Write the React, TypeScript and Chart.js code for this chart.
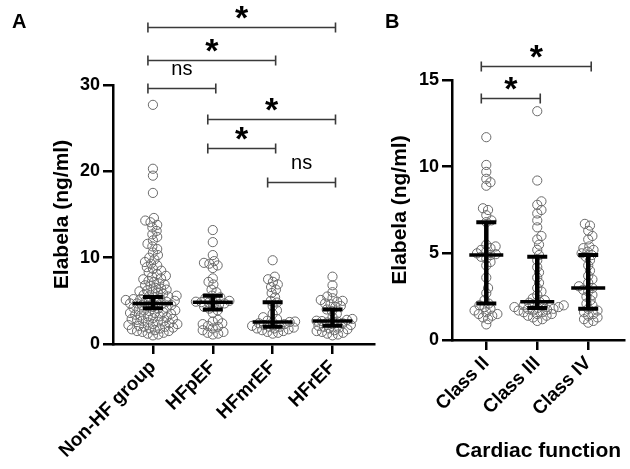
import React, { useEffect, useRef } from 'react';
import { Chart, registerables } from 'chart.js';

Chart.register(...registerables);

const FONT = "'Liberation Sans', Arial, sans-serif";

// ---------- Panel A data ----------
const GROUPS_A = ['Non-HF group', 'HFpEF', 'HFmrEF', 'HFrEF'];
const NON_HF = [
  27.7, 20.3, 19.5, 17.5, 14.6, 14.3, 14.1, 13.8, 13.5, 13.1, 12.7, 12.4, 12.0, 11.6, 11.3, 11.0,
  10.6, 10.3, 10.0, 9.8, 9.5, 9.3, 9.1, 8.9, 8.7, 8.5, 8.3, 8.1, 7.9, 7.8, 7.6, 7.5, 7.3, 7.2, 7.0,
  6.9, 6.8, 6.7, 6.5, 6.4, 6.3, 6.2, 6.1, 6.0, 5.9, 5.8, 5.7, 5.6, 5.5, 5.5, 5.4, 5.3, 5.2, 5.2,
  5.1, 5.0, 5.0, 4.9, 4.9, 4.8, 4.7, 4.7, 4.6, 4.5, 4.5, 4.4, 4.3, 4.2, 4.2, 4.1, 4.0, 3.9, 3.9,
  3.8, 3.7, 3.6, 3.6, 3.5, 3.4, 3.3, 3.2, 3.2, 3.1, 3.0, 2.9, 2.9, 2.8, 2.7, 2.6, 2.6, 2.5, 2.4,
  2.3, 2.3, 2.2, 2.1, 2.0, 2.0, 1.9, 1.8, 1.8, 1.7, 1.6, 1.5, 1.5, 1.4, 1.3, 1.2, 1.1, 1.0,
];
const HFPEF = [
  13.2, 11.8, 10.3, 9.6, 9.4, 9.3, 9.1, 8.8, 7.6, 7.2, 6.9, 6.3, 6.0, 5.6, 5.4, 5.3, 5.1, 5.0, 4.9,
  4.85, 4.8, 4.7, 4.6, 4.5, 4.3, 4.1, 3.9, 3.6, 2.8, 2.6, 2.4, 2.3, 2.1, 2.0, 1.8, 1.6, 1.4, 1.3,
  1.2, 1.1,
];
const HFMREF = [
  9.7, 7.8, 7.5, 7.2, 6.9, 6.6, 6.3, 5.9, 5.4, 5.0, 4.8, 4.4, 3.9, 3.5, 3.1, 2.9, 2.7, 2.6, 2.55,
  2.5, 2.4, 2.3, 2.2, 2.1, 2.0, 2.0, 1.9, 1.8, 1.8, 1.7, 1.6, 1.5, 1.4, 1.3, 1.2,
];
const HFREF = [
  7.8, 6.8, 6.0, 5.5, 5.3, 5.1, 5.0, 4.9, 4.7, 4.6, 4.4, 4.3, 4.0, 3.8, 3.5, 3.1, 2.9, 2.8, 2.7,
  2.65, 2.6, 2.5, 2.4, 2.3, 2.2, 2.1, 2.0, 1.9, 1.8, 1.7, 1.6, 1.5, 1.4, 1.3, 1.2, 1.1, 1.0,
];
const MEDIAN_A = [4.7, 4.85, 2.55, 2.65];
const CI_LOW_A = [4.15, 4.0, 2.0, 2.1];
const CI_HIGH_A = [5.45, 5.6, 4.85, 4.0];
const Y_TICKS_A = [0, 10, 20, 30];
// significance comparisons: group indices, bracket level (ng/ml), label
const COMP_FROM_A = [0, 0, 0, 1, 1, 2];
const COMP_TO_A = [3, 2, 1, 3, 2, 3];
const COMP_LEVEL_A = [36.7, 32.9, 29.6, 26.1, 22.7, 18.8];
const COMP_LABEL_A = ['*', '*', 'ns', '*', '*', 'ns'];

// ---------- Panel B data ----------
const GROUPS_B = ['Class II', 'Class III', 'Class IV'];
const CLASS_II = [
  11.7, 10.1, 9.7, 9.3, 9.1, 8.9, 7.6, 7.5, 7.2, 6.9, 6.8, 5.5, 5.4, 5.3, 5.2, 5.1, 5.0, 4.95, 4.9,
  4.8, 4.7, 4.5, 4.3, 3.6, 3.0, 2.7, 2.3, 2.1, 2.0, 1.9, 1.8, 1.7, 1.6, 1.5, 1.5, 1.4, 1.3, 1.2, 0.9,
];
const CLASS_III = [
  13.2, 9.2, 8.0, 7.8, 7.5, 7.3, 6.9, 6.5, 6.0, 5.8, 5.5, 5.2, 4.9, 4.6, 4.2, 3.9, 3.6, 3.3, 3.0,
  2.8, 2.6, 2.4, 2.3, 2.2, 2.15, 2.1, 2.0, 2.0, 1.95, 1.9, 1.9, 1.85, 1.8, 1.8, 1.75, 1.7, 1.7,
  1.6, 1.6, 1.5, 1.5, 1.4, 1.4, 1.3, 1.2, 1.1,
];
const CLASS_IV = [
  6.7, 6.6, 6.3, 6.0, 5.8, 5.4, 5.3, 5.2, 5.1, 5.0, 4.9, 4.8, 4.6, 4.3, 4.0, 3.7, 3.5, 3.3, 3.1,
  3.0, 2.9, 2.8, 2.6, 2.5, 2.3, 2.1, 2.0, 1.8, 1.7, 1.6, 1.5, 1.4, 1.3, 1.2, 1.1, 1.0,
];
const MEDIAN_B = [4.9, 2.2, 3.0];
const CI_LOW_B = [2.1, 1.85, 1.8];
const CI_HIGH_B = [6.8, 4.8, 4.9];
const Y_TICKS_B = [0, 5, 10, 15];
const COMP_FROM_B = [0, 0];
const COMP_TO_B = [2, 1];
const COMP_LEVEL_B = [15.8, 13.95];
const COMP_LABEL_B = ['*', '*'];

// beeswarm layout (pixel space) -> offsets in category units
function swarm(values: number[], pxPerX: number, pxPerY: number, minDist: number): number[] {
  const idx = values.map((_, i) => i).sort((a, b) => values[a] - values[b]);
  const placed: { x: number; y: number }[] = [];
  const out = new Array(values.length).fill(0);
  for (const i of idx) {
    const y = values[i] * pxPerY;
    const cands = [0];
    for (const p of placed) {
      const dy = Math.abs(p.y - y);
      if (dy < minDist) {
        const dx = Math.sqrt(minDist * minDist - dy * dy);
        cands.push(p.x + dx + 0.01, p.x - dx - 0.01);
      }
    }
    cands.sort((a, b) => Math.abs(a) - Math.abs(b));
    let best = 0;
    for (const c of cands) {
      let ok = true;
      for (const p of placed) {
        const dx = p.x - c;
        const dy = p.y - y;
        if (dx * dx + dy * dy < minDist * minDist - 0.001) { ok = false; break; }
      }
      if (ok) { best = c; break; }
    }
    placed.push({ x: best, y });
    out[i] = best / pxPerX;
  }
  return out;
}

const overlayPlugin = {
  id: 'overlay',
  afterDatasetsDraw(chart: any, _args: any, opts: any) {
    const { ctx } = chart;
    const xs = chart.scales.x;
    const ys = chart.scales.y;
    ctx.save();
    // error bars
    ctx.strokeStyle = '#000';
    ctx.lineCap = 'butt';
    for (let i = 0; i < opts.median.length; i++) {
      const x = xs.getPixelForValue(i);
      const yMed = ys.getPixelForValue(opts.median[i]);
      const yLo = ys.getPixelForValue(opts.low[i]);
      const yHi = ys.getPixelForValue(opts.high[i]);
      ctx.lineWidth = 4.5;
      ctx.beginPath();
      ctx.moveTo(x, yLo);
      ctx.lineTo(x, yHi);
      ctx.stroke();
      ctx.lineWidth = 4;
      ctx.beginPath();
      ctx.moveTo(x - opts.cap, yLo);
      ctx.lineTo(x + opts.cap, yLo);
      ctx.moveTo(x - opts.cap, yHi);
      ctx.lineTo(x + opts.cap, yHi);
      ctx.stroke();
      ctx.lineWidth = 3.5;
      ctx.beginPath();
      ctx.moveTo(x - opts.med, yMed);
      ctx.lineTo(x + opts.med, yMed);
      ctx.stroke();
    }
    // significance brackets
    ctx.strokeStyle = '#3a3a3a';
    ctx.fillStyle = '#000';
    ctx.textAlign = 'center';
    ctx.textBaseline = 'alphabetic';
    for (let k = 0; k < opts.from.length; k++) {
      const x1 = xs.getPixelForValue(opts.from[k]) - 5;
      const x2 = xs.getPixelForValue(opts.to[k]) + 3;
      const y = Math.round(ys.getPixelForValue(opts.level[k])) + 0.5;
      ctx.lineWidth = 1.6;
      ctx.beginPath();
      ctx.moveTo(x1, y);
      ctx.lineTo(x2, y);
      ctx.moveTo(x1, y - 5);
      ctx.lineTo(x1, y + 5);
      ctx.moveTo(x2, y - 5);
      ctx.lineTo(x2, y + 5);
      ctx.stroke();
      const cx = (x1 + x2) / 2;
      if (opts.label[k] === '*') {
        ctx.font = `bold 34px ${FONT}`;
        ctx.fillText('*', cx, y + 1);
      } else {
        ctx.font = `20px ${FONT}`;
        ctx.fillText(opts.label[k], cx, y - 14);
      }
    }
    // panel letter
    ctx.font = `bold 20px ${FONT}`;
    ctx.textAlign = 'left';
    ctx.fillText(opts.letter, opts.letterX, 28);
    ctx.restore();
  },
};

function makeConfig(p: any) {
  const datasets = p.groups.map((vals: number[], i: number) => {
    const off = swarm(vals, p.pxPerX, p.pxPerY, p.swarmDist);
    return {
      data: vals.map((v, k) => ({ x: i + off[k], y: v })),
      pointRadius: 4.6,
      pointBorderWidth: 1,
      pointBorderColor: '#6a6a6a',
      pointBackgroundColor: 'rgba(0,0,0,0)',
      pointHoverRadius: 4.6,
    };
  });
  const tickFont = { family: FONT, size: 18, weight: 'bold' as const };
  return {
    type: 'scatter' as const,
    data: { datasets },
    plugins: [overlayPlugin],
    options: {
      responsive: false,
      animation: false as const,
      events: [],
      layout: { padding: p.padding },
      plugins: {
        legend: { display: false },
        tooltip: { enabled: false },
        overlay: p.overlay,
      },
      scales: {
        x: {
          type: 'linear' as const,
          min: p.xMin,
          max: p.xMax,
          afterBuildTicks: (s: any) => { s.ticks = p.names.map((_: string, i: number) => ({ value: i })); },
          afterFit: (s: any) => { s.height = p.xHeight; },
          ticks: {
            autoSkip: false,
            minRotation: 45,
            maxRotation: 45,
            padding: 2,
            color: '#000',
            font: { family: FONT, size: 19, weight: 'bold' as const },
            callback: (v: number) => p.names[v] ?? '',
          },
          grid: { drawOnChartArea: false, drawTicks: true, tickLength: 10, color: '#000', lineWidth: 2.5 },
          border: { display: true, color: '#000', width: 2.5 },
          title: p.xTitle
            ? { display: true, text: p.xTitle, color: '#000', font: { family: FONT, size: 21, weight: 'bold' as const }, padding: { top: 0, bottom: 5 } }
            : { display: false },
        },
        y: {
          type: 'linear' as const,
          min: 0,
          max: p.yMax,
          afterBuildTicks: (s: any) => { s.ticks = p.yTicks.map((v: number) => ({ value: v })); },
          afterFit: (s: any) => { s.width = p.yWidth; },
          ticks: { color: '#000', font: tickFont, padding: 3 },
          grid: { drawOnChartArea: false, drawTicks: true, tickLength: 10, color: '#000', lineWidth: 2.5 },
          border: { display: true, color: '#000', width: 2.5 },
          title: {
            display: true,
            text: 'Elabela (ng/ml)',
            color: '#000',
            font: { family: FONT, size: 21, weight: 'bold' as const },
            padding: { top: p.yTitlePad, bottom: 0 },
          },
        },
      },
    },
  };
}

function Panel({ p, left, width }: { p: any; left: number; width: number }) {
  const ref = useRef<HTMLCanvasElement>(null);
  useEffect(() => {
    if (!ref.current) return;
    const chart = new Chart(ref.current, makeConfig(p) as any);
    return () => chart.destroy();
  }, []);
  return (
    <canvas
      ref={ref}
      width={width}
      height={469}
      style={{ position: 'absolute', left, top: 0, width, height: 469 }}
    />
  );
}

const PANEL_A = {
  groups: [NON_HF, HFPEF, HFMREF, HFREF],
  names: GROUPS_A,
  pxPerX: 60,
  pxPerY: 8.633,
  swarmDist: 5.5,
  xMin: -0.667,
  xMax: 3.7,
  yMax: 30,
  yTicks: Y_TICKS_A,
  yWidth: 113,
  xHeight: 125,
  yTitlePad: 50,
  padding: { left: 0, top: 85, right: 5, bottom: 0 },
  xTitle: '',
  overlay: {
    median: MEDIAN_A, low: CI_LOW_A, high: CI_HIGH_A, med: 20, cap: 10,
    from: COMP_FROM_A, to: COMP_TO_A, level: COMP_LEVEL_A, label: COMP_LABEL_A,
    letter: 'A', letterX: 12,
  },
};

const PANEL_B = {
  groups: [CLASS_II, CLASS_III, CLASS_IV],
  names: GROUPS_B,
  pxPerX: 52,
  pxPerY: 17.33,
  swarmDist: 5.5,
  xMin: -0.673,
  xMax: 2.71,
  yMax: 15,
  yTicks: Y_TICKS_B,
  yWidth: 72,
  xHeight: 129,
  yTitlePad: 8,
  padding: { left: 0, top: 80, right: 2, bottom: 0 },
  xTitle: 'Cardiac function',
  overlay: {
    median: MEDIAN_B, low: CI_LOW_B, high: CI_HIGH_B, med: 17, cap: 10,
    from: COMP_FROM_B, to: COMP_TO_B, level: COMP_LEVEL_B, label: COMP_LABEL_B,
    letter: 'B', letterX: 5,
  },
};

export default function App() {
  return (
    <div style={{ position: 'absolute', left: 0, top: 0, width: 630, height: 469, background: '#fff' }}>
      <Panel p={PANEL_A} left={0} width={380} />
      <Panel p={PANEL_B} left={380} width={250} />
    </div>
  );
}
